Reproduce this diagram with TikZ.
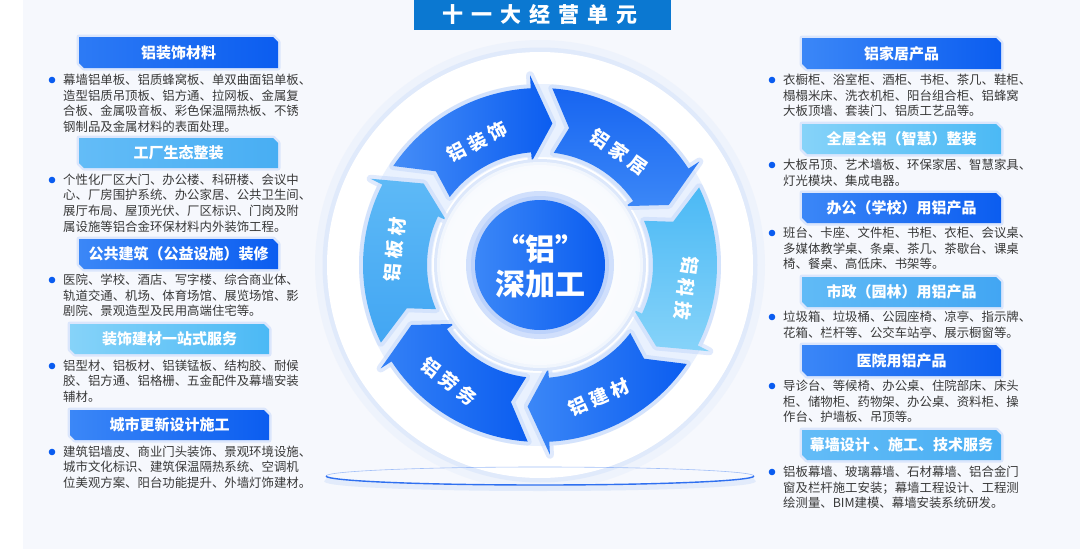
\documentclass[tikz,border=0pt]{standalone}
\usepackage{fontspec}
\setmainfont{Noto Sans CJK SC}
\usetikzlibrary{calc}
\definecolor{bgc}{HTML}{F6F8FD}
\definecolor{titlec}{HTML}{0B78D1}
\definecolor{dA}{HTML}{3B87F7}
\definecolor{dB}{HTML}{0B5DF0}
\definecolor{lA}{HTML}{63BCF7}
\definecolor{lB}{HTML}{48AEF3}
\definecolor{mA}{HTML}{86D3F9}
\definecolor{mB}{HTML}{4BB9F5}
\definecolor{txt}{HTML}{383838}
\definecolor{dotc}{HTML}{0A5CF0}
\definecolor{glowc}{HTML}{BCD2FB}
\definecolor{haloc}{HTML}{DDE8FB}
\definecolor{ringbase}{HTML}{E9F1FE}
\definecolor{ellc}{HTML}{2F70F0}
\tikzset{
  hglow/.style={draw=glowc, line width=5pt, opacity=0.45, line join=round},
  htxt/.style={text=white, font=\fontsize{15}{15}\selectfont\bfseries, inner sep=0pt},
  bodytxt/.style={anchor=north west, inner sep=0pt, align=left, text=txt, font=\fontsize{12.4}{15.6}\selectfont},
  arrlbl/.style={text=white, font=\fontsize{18.5}{18.5}\selectfont\bfseries, inner sep=0pt},
  aglow/.style={draw=glowc, line width=8pt, opacity=0.45, line join=round},
  ctxt/.style={text=white, font=\fontsize{30}{30}\selectfont\bfseries, inner sep=0pt},
}
\newcommand\ArrPath[2]{(#1:177) arc[start angle=#1, end angle=#2, radius=177] -- (#2:190) -- ({#2-8}:142) -- ({#2+1.5}:104) -- ({#2+1.5}:113) arc[start angle={#2+1.5}, end angle={#1-3}, radius=113] -- ({#1-8}:140) -- cycle}
\newcommand\Hdr[8]{%
  \draw[hglow] (#1,#2) -- ({#3-5},#2) -- (#3,{#2+5}) -- (#3,#4) -- ({#1+5},#4) -- (#1,{#4-5}) -- cycle;
  \shade[left color=#5, right color=#6] (#1,#2) -- ({#3-5},#2) -- (#3,{#2+5}) -- (#3,#4) -- ({#1+5},#4) -- (#1,{#4-5}) -- cycle;
  \node[htxt] (#7) at ({(#1+#3)/2},{(#2+#4)/2}) {#8};
}
\newcommand\Body[5]{%
  \fill[dotc] (#2,#3) circle[radius=3.3];
  \node[bodytxt] (#1) at (#4,{#3-6.3}) {#5};
}
\newcommand\Sp{\hspace{4.5pt}}
\begin{document}
\begin{tikzpicture}[x=1pt,y=-1pt]
\useasboundingbox (0,0) rectangle (1080,549);
\fill[white] (0,0) rectangle (1080,549);
\fill[bgc] (23,0) rectangle (1080,549);

% ring group
\begin{scope}[shift={(540,265)}, yscale=-1]
  \draw[haloc, line width=12pt, opacity=0.3] (0,0) circle[radius=219];
  \draw[haloc, line width=5pt, opacity=0.8] (0,0) circle[radius=215];
  \fill[white] (0,0) circle[radius=213];
  \fill[ringbase, even odd rule] (0,0) circle[radius=181] (0,0) circle[radius=108];
  \foreach \t/\h in {146/93, 86/33, 26/-27, -34/-87, -94/-147, 206/153} {
    \draw[aglow] \ArrPath{\t}{\h};
  }
  \shade[left color=dA!95!white, right color=dB] \ArrPath{146}{93};
  \shade[top color=dB!95!white, bottom color=dA] \ArrPath{86}{33};
  \shade[top color=mB, bottom color=mA] \ArrPath{26}{-27};
  \shade[left color=dA, right color=dB] \ArrPath{-34}{-87};
  \shade[left color=dA!85!dB, right color=dB] \ArrPath{-94}{-147};
  \shade[top color=lA!80!lB, bottom color=lB!90!dB] \ArrPath{206}{153};
  % inner white ring and disc
  \fill[haloc] (0,0) circle[radius=106];
  \fill[white!60!haloc] (0,0) circle[radius=103];
  \shade[inner color=white, outer color=white!80!haloc] (0,0) circle[radius=100];
  \fill[white!30!glowc] (0,0) circle[radius=74];
  \fill[glowc] (0,0) circle[radius=69];
  \shade[left color=dA, right color=dB] (0,0) circle[radius=65];
  % labels
  \node[arrlbl, rotate=27]  (l1) at (117:138) {铝\Sp 装\Sp 饰};
  \node[arrlbl, rotate=-35] (l2) at (55:138) {铝\Sp 家\Sp 居};
  \node[arrlbl, rotate=-99] (l3) at (-9:148) {铝\Sp 科\Sp 技};
  \node[arrlbl, rotate=24]  (l4) at (-66:145) {铝\Sp 建\Sp 材};
  \node[arrlbl, rotate=-38] (l5) at (-128:148) {铝\Sp 劳\Sp 务};
  \node[arrlbl, rotate=84]  (l6) at (174:146) {铝\Sp 板\Sp 材};
\end{scope}
\node[ctxt] (c1) at (540,249) {“铝”};
\node[ctxt] (c2) at (540,284) {深加工};

% bottom ellipse
\draw[haloc, line width=6pt, opacity=0.8] (754,479) arc[start angle=0, end angle=180, x radius=214, y radius=9];
\draw[white!55!ellc, line width=0.6pt] (754,476) arc[start angle=0, end angle=-180, x radius=214, y radius=9];
\draw[ellc, line width=1.4pt] (754,476) arc[start angle=0, end angle=180, x radius=214, y radius=9];

% title
\fill[titlec] (414,0) rectangle (671,30);
\node[text=white, font=\fontsize{21}{21}\selectfont\bfseries, inner sep=0pt] (title) at (540,14)
  {十\hspace{8pt}一\hspace{8pt}大\hspace{8pt}经\hspace{8pt}营\hspace{8pt}单\hspace{8pt}元};

% left column
\Hdr{79}{37}{278}{68}{dA!70!dB}{dB}{hL1}{铝装饰材料}
\Body{bL1}{52}{80}{63}{幕墙铝单板、铝质蜂窝板、单双曲面铝单板、\\造型铝质吊顶板、铝方通、拉网板、金属复\\合板、金属吸音板、彩色保温隔热板、不锈\\钢制品及金属材料的表面处理。}
\Hdr{79}{138}{278}{168}{lA}{lB}{hL2}{工厂生态整装}
\Body{bL2}{52}{180}{63}{个性化厂区大门、办公楼、科研楼、会议中\\心、厂房围护系统、办公家居、公共卫生间、\\展厅布局、屋顶光伏、厂区标识、门岗及附\\属设施等铝合金环保材料内外装饰工程。}
\Hdr{79}{239}{278}{269}{dA}{dB}{hL3}{公共建筑（公益设施）装修}
\Body{bL3}{52}{280}{63}{医院、学校、酒店、写字楼、综合商业体、\\轨道交通、机场、体育场馆、展览场馆、影\\剧院、景观造型及民用高端住宅等。}
\Hdr{70}{324}{269}{354}{mA}{mB}{hL4}{装饰建材一站式服务}
\Body{bL4}{52}{366}{63}{铝型材、铝板材、铝镁锰板、结构胶、耐候\\胶、铝方通、铝格栅、五金配件及幕墙安装\\辅材。}
\Hdr{70}{410}{269}{440}{dA}{dB}{hL5}{城市更新设计施工}
\Body{bL5}{52}{452}{63}{建筑铝墙皮、商业门头装饰、景观环境设施、\\城市文化标识、建筑保温隔热系统、空调机\\位美观方案、阳台功能提升、外墙灯饰建材。}

% right column
\Hdr{802}{38}{1001}{69}{dA}{dB}{hR1}{铝家居产品}
\Body{bR1}{772}{80}{783}{衣橱柜、浴室柜、酒柜、书柜、茶几、鞋柜、\\榻榻米床、洗衣机柜、阳台组合柜、铝蜂窝\\大板顶墙、套装门、铝质工艺品等。}
\Hdr{802}{124}{1001}{154}{mA}{mB}{hR2}{全屋全铝（智慧）整装}
\Body{bR2}{772}{165}{783}{大板吊顶、艺术墙板、环保家居、智慧家具、\\灯光模块、集成电器。}
\Hdr{802}{193}{1001}{223}{dA}{dB}{hR3}{办公（学校）用铝产品}
\Body{bR3}{772}{233}{783}{班台、卡座、文件柜、书柜、衣柜、会议桌、\\多媒体教学桌、条桌、茶几、茶歇台、课桌\\椅、餐桌、高低床、书架等。}
\Hdr{802}{277}{1001}{307}{lA!90!lB}{lB!90!dB}{hR4}{市政（园林）用铝产品}
\Body{bR4}{772}{317}{783}{垃圾箱、垃圾桶、公园座椅、凉亭、指示牌、\\花箱、栏杆等、公交车站亭、展示橱窗等。}
\Hdr{802}{345}{1001}{376}{dA}{dB}{hR5}{医院用铝产品}
\Body{bR5}{772}{386}{783}{导诊台、等候椅、办公桌、住院部床、床头\\柜、储物柜、药物架、办公桌、资料柜、操\\作台、护墙板、吊顶等。}
\Hdr{802}{430}{1001}{460}{lA}{lB}{hR6}{幕墙设计 、施工、技术服务}
\Body{bR6}{772}{472}{783}{铝板幕墙、玻璃幕墙、石材幕墙、铝合金门\\窗及栏杆施工安装；幕墙工程设计、工程测\\绘测量、BIM建模、幕墙安装系统研发。}
\end{tikzpicture}
\end{document}
